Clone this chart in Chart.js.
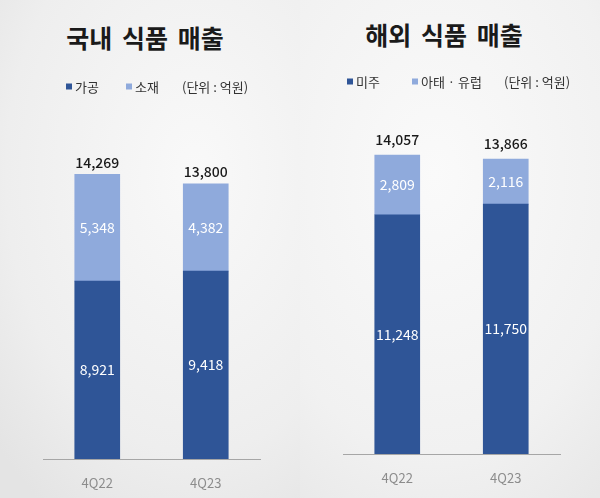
<!DOCTYPE html>
<html>
<head>
<meta charset="utf-8">
<script src="https://cdn.jsdelivr.net/npm/chart.js@4.4.0/dist/chart.umd.min.js"></script>
<style>
    html, body { margin: 0; padding: 0; }
    body { width: 600px; height: 498px; position: relative; overflow: hidden; font-family: "Noto Sans CJK KR", "Noto Sans", sans-serif; }
    .panel { position: absolute; top: 0; width: 300px; height: 498px; }
    #left { left: 0; background: radial-gradient(ellipse 90% 80% at 65% 35%, #f9f9f9 0%, #eeeeee 70%, #e4e4e4 100%); }
    #right { left: 300px; background: radial-gradient(ellipse 90% 80% at 45% 35%, #fafafa 0%, #f1f1f1 70%, #e8e8e8 100%); }
    .panel canvas { position: absolute; left: 0; top: 0; }
    .title { position: absolute; font-size: 25px; font-weight: bold; color: #1a1a1a; white-space: nowrap; transform: translate(-50%, -50%); word-spacing: 4px; }
    .legend { position: absolute; font-size: 13px; color: #333; white-space: nowrap; transform: translateY(-50%); }
    .legend i { display: inline-block; width: 6px; height: 6px; margin-right: 3px; vertical-align: 2px; }
</style>
</head>
<body>
<div id="left" class="panel">
    <div class="title" id="left-title" style="left:145px; top:37px;"></div>
    <canvas id="domestic-chart" width="300" height="498"></canvas>
</div>
<div id="right" class="panel">
    <div class="title" id="right-title" style="left:144px; top:34px;"></div>
    <canvas id="overseas-chart" width="300" height="498"></canvas>
</div>
<script>
// Data
const quarters = ['4Q22', '4Q23'];

const domesticTitle = '국내 식품 매출';
const domesticNames = ['가공', '소재'];
const domesticProcessed = [8921, 9418];
const domesticMaterial = [5348, 4382];
const domesticTotals = [14269, 13800];

const overseasTitle = '해외 식품 매출';
const overseasNames = ['미주', '아태 · 유럽'];
const overseasAmericas = [11248, 11750];
const overseasAsiaEurope = [2809, 2116];
const overseasTotals = [14057, 13866];

const unitLabel = '(단위 : 억원)';

const darkBlue = '#2f5597';
const lightBlue = '#8faadc';

Chart.defaults.font.family = '"Noto Sans CJK KR", "Noto Sans", sans-serif';

// Header text (title + legend)
function buildHeader(panelId, titleId, title, names, positions, legendY) {
    document.getElementById(titleId).textContent = title;
    const panel = document.getElementById(panelId);
    const colors = [darkBlue, lightBlue];
    names.forEach((name, i) => {
        const item = document.createElement('div');
        item.className = 'legend';
        item.style.left = positions[i] + 'px';
        item.style.top = legendY + 'px';
        item.innerHTML = `<i style="background:${colors[i]}"></i>${name}`;
        panel.appendChild(item);
    });
    const unit = document.createElement('div');
    unit.className = 'legend';
    unit.style.left = positions[2] + 'px';
    unit.style.top = legendY + 'px';
    unit.textContent = unitLabel;
    panel.appendChild(unit);
}

buildHeader('left', 'left-title', domesticTitle, domesticNames, [66, 126, 182], 86);
buildHeader('right', 'right-title', overseasTitle, overseasNames, [47, 112, 204], 81);

// Labels inside and above the bars
const barLabels = {
    id: 'barLabels',
    afterDatasetsDraw(chart, args, opts) {
        const ctx = chart.ctx;
        ctx.save();
        ctx.textAlign = 'center';
        ctx.textBaseline = 'middle';
        ctx.font = '14px "Noto Sans CJK KR", "Noto Sans", sans-serif';
        ctx.fillStyle = '#ffffff';
        chart.data.datasets.forEach((ds, i) => {
            const meta = chart.getDatasetMeta(i);
            meta.data.forEach((bar, j) => {
                ctx.fillText(ds.data[j].toLocaleString('en-US'), bar.x, (bar.y + bar.base) / 2);
            });
        });
        const topMeta = chart.getDatasetMeta(chart.data.datasets.length - 1);
        ctx.font = '500 14px "Noto Sans CJK KR", "Noto Sans", sans-serif';
        ctx.fillStyle = '#1a1a1a';
        opts.totals.forEach((total, j) => {
            const bar = topMeta.data[j];
            ctx.fillText(total.toLocaleString('en-US'), bar.x, bar.y - opts.offset);
        });
        ctx.restore();
    }
};

function makeChart(canvasId, names, lower, upper, totals, yMax, padTop, axisHeight, offset) {
    const ctx = document.getElementById(canvasId).getContext('2d');
    return new Chart(ctx, {
        type: 'bar',
        data: {
            labels: quarters,
            datasets: [
                { label: names[0], data: lower, backgroundColor: darkBlue, barThickness: 45 },
                { label: names[1], data: upper, backgroundColor: lightBlue, barThickness: 45 }
            ]
        },
        options: {
            responsive: false,
            animation: false,
            devicePixelRatio: 1,
            layout: { padding: { left: 43, right: 40, top: padTop, bottom: 0 } },
            plugins: {
                legend: { display: false },
                tooltip: { enabled: false },
                barLabels: { totals: totals, offset: offset }
            },
            scales: {
                x: {
                    stacked: true,
                    grid: { display: false },
                    border: { display: true, color: '#a6a6a6', width: 1 },
                    ticks: { color: '#8c8c8c', font: { size: 13 }, padding: 8 },
                    afterFit: scale => { scale.height = axisHeight; }
                },
                y: {
                    stacked: true,
                    display: false,
                    min: 0,
                    max: yMax
                }
            }
        },
        plugins: [barLabels]
    });
}

makeChart('domestic-chart', domesticNames, domesticProcessed, domesticMaterial, domesticTotals, 18000, 100, 39, 12);
makeChart('overseas-chart', overseasNames, overseasAmericas, overseasAsiaEurope, overseasTotals, 16500, 103, 44, 15);
</script>
</body>
</html>
